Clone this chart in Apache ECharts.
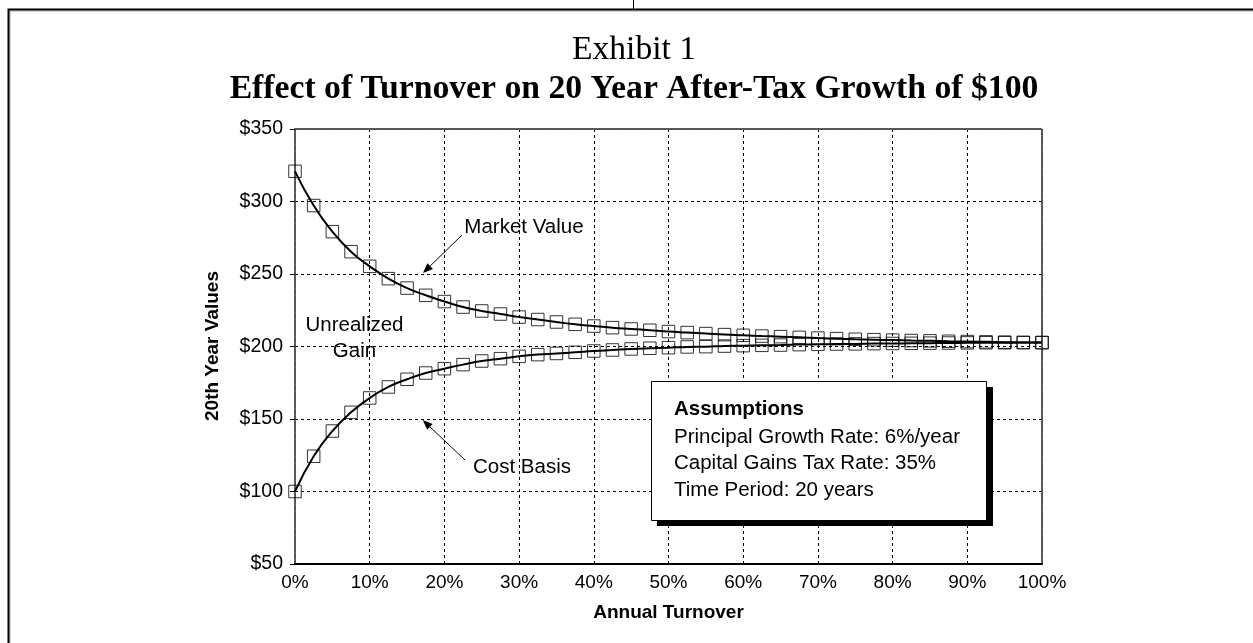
<!DOCTYPE html>
<html><head><meta charset="utf-8">
<script src="https://cdn.jsdelivr.net/npm/echarts@6/dist/echarts.min.js"></script>
<style>html,body{margin:0;padding:0;background:#fff}#c{width:1253px;height:643px}</style>
</head><body><div id="c"></div>
<script>
// ---- data ----
const turnover = [0,2.5,5,7.5,10,12.5,15,17.5,20,22.5,25,27.5,30,32.5,35,37.5,40,42.5,45,47.5,50,52.5,55,57.5,60,62.5,65,67.5,70,72.5,75,77.5,80,82.5,85,87.5,90,92.5,95,97.5,100];
const marketValue = [320.8,297.2,279.2,265.4,255.3,246.8,240.3,235.3,231.0,227.2,224.5,222.4,220.3,218.6,216.9,215.3,214.1,213.0,212.1,211.2,210.3,209.6,208.9,208.2,207.7,207.2,206.8,206.3,205.8,205.4,205.0,204.7,204.4,204.1,203.9,203.6,203.4,203.2,203.0,202.8,202.7];
const costBasis = [100,124.3,141.7,154.6,164.5,172.1,177.4,181.7,184.7,187.5,190.0,191.6,193.2,194.4,195.2,196.0,196.9,197.6,198.3,198.8,199.2,199.7,199.9,200.3,200.6,200.8,201.0,201.3,201.5,201.7,201.8,202.0,202.1,202.2,202.3,202.4,202.5,202.6,202.6,202.7,202.7];
const xTicks = [0,10,20,30,40,50,60,70,80,90,100];
const yTicks = [50,100,150,200,250,300,350];
const exhibitText = 'Exhibit 1';
const titleText = 'Effect of Turnover on 20 Year After-Tax Growth of $100';
const xName = 'Annual Turnover';
const yName = '20th Year Values';
const assumptionsHead = 'Assumptions';
const assumptionsLines = ['Principal Growth Rate: 6%/year','Capital Gains Tax Rate: 35%','Time Period: 20 years'];

// ---- helpers ----
const cv = document.createElement('canvas').getContext('2d');
function fit(text, weight, family, targetW) {
  cv.font = weight + ' 40px ' + family;
  return 40 * targetW / cv.measureText(text).width;
}
const SERIF = '"Liberation Serif", "DejaVu Serif", serif';
const SANS = '"Liberation Sans", Arial, sans-serif';
const exSize = fit(exhibitText, 'normal', SERIF, 124);
const tiSize = fit(titleText, 'bold', SERIF, 808);

function arrow(x1, y1, x2, y2) {
  const a = Math.atan2(y2 - y1, x2 - x1), L = 10, W = 4;
  const bx = x2 - L * Math.cos(a), by = y2 - L * Math.sin(a);
  const px = -Math.sin(a) * W, py = Math.cos(a) * W;
  return [
    {type:'line', z:50, shape:{x1:x1,y1:y1,x2:bx,y2:by}, style:{stroke:'#000', lineWidth:1}},
    {type:'polygon', z:50, shape:{points:[[x2,y2],[bx+px,by+py],[bx-px,by-py]]}, style:{fill:'#000'}}
  ];
}
function txt(t, x, y, font, align, extra) {
  return Object.assign({type:'text', z:60, x:x, y:y, style:{text:t, x:0, y:0, font:font, fill:'#000', align:align||'center', verticalAlign:'middle'}}, extra||{});
}

const chart = echarts.init(document.getElementById('c'), null, {renderer:'canvas'});
const gridLine = {show:true, lineStyle:{color:'#000', width:1, type:[3,3]}};
const frameLine = {show:true, onZero:false, lineStyle:{color:'#555', width:2, type:[2,1]}};

const graphics = [
  {type:'polyline', z:40, shape:{points:[[10,700],[10,11],[1260,11]]}, style:{stroke:'#aaa', lineWidth:1, fill:null}},
  {type:'polyline', z:41, shape:{points:[[8.5,700],[8.5,9.5],[1260,9.5]]}, style:{stroke:'#000', lineWidth:2, fill:null}},
  {type:'line', z:40, shape:{x1:633.5,y1:0,x2:633.5,y2:9}, style:{stroke:'#000', lineWidth:1}},
  txt(exhibitText, 634, 50, 'normal ' + exSize.toFixed(1) + 'px ' + SERIF),
  txt(titleText, 634, 89, 'bold ' + tiSize.toFixed(1) + 'px ' + SERIF),
  txt(yName, 213, 346, 'bold 19px ' + SANS, 'center', {rotation: Math.PI/2}),
  txt(xName, 668.5, 613, 'bold 19px ' + SANS),
  txt('Market Value', 524, 227, '20.5px ' + SANS),
  txt('Unrealized', 354.5, 325, '20.5px ' + SANS),
  txt('Gain', 354.5, 351, '20.5px ' + SANS),
  txt('Cost Basis', 473, 467, '20.5px ' + SANS, 'left'),
  {type:'rect', z:70, shape:{x:657, y:387, width:336, height:139}, style:{fill:'#000'}},
  {type:'rect', z:71, shape:{x:651.5, y:381.5, width:335, height:139}, style:{fill:'#fff', stroke:'#000', lineWidth:1}},
  txt(assumptionsHead, 674, 409, 'bold 20.5px ' + SANS, 'left', {z:72}),
  txt(assumptionsLines[0], 674, 437, '20.5px ' + SANS, 'left', {z:72}),
  txt(assumptionsLines[1], 674, 463, '20.5px ' + SANS, 'left', {z:72}),
  txt(assumptionsLines[2], 674, 490, '20.5px ' + SANS, 'left', {z:72})
].concat(arrow(462, 235, 423, 273), arrow(465, 460, 422.7, 420));

chart.setOption({
  animation: false,
  backgroundColor: '#fff',
  grid: {left: 295, right: 211, top: 129, bottom: 79, containLabel: false},
  xAxis: [{
    type: 'value', min: xTicks[0], max: xTicks[xTicks.length-1], interval: 10,
    axisLine: {show: true, onZero: false, lineStyle: {color: '#000', width: 2}},
    axisTick: {show: false},
    axisLabel: {formatter: v => v + '%', color: '#000', fontFamily: SANS, fontSize: 19, margin: 9},
    splitLine: gridLine
  }, {
    type: 'value', position: 'top', min: xTicks[0], max: xTicks[xTicks.length-1], interval: 10,
    axisLine: frameLine, axisTick: {show: false}, axisLabel: {show: false}, splitLine: {show: false}
  }],
  yAxis: [{
    type: 'value', min: yTicks[0], max: yTicks[yTicks.length-1], interval: 50,
    axisLine: frameLine,
    axisTick: {show: true, length: 5, lineStyle: {color: '#000'}},
    axisLabel: {formatter: v => '$' + v, color: '#000', fontFamily: SANS, fontSize: 19.5, margin: 12},
    splitLine: gridLine
  }, {
    type: 'value', position: 'right', min: yTicks[0], max: yTicks[yTicks.length-1], interval: 50,
    axisLine: frameLine, axisTick: {show: false}, axisLabel: {show: false}, splitLine: {show: false}
  }],
  series: [
    {type:'line', data: turnover.map((x,i)=>[x, marketValue[i]]), smooth: true, showSymbol: false, symbol:'none', lineStyle:{color:'#000', width:2}, z:3},
    {type:'line', data: turnover.map((x,i)=>[x, costBasis[i]]), smooth: true, showSymbol: false, symbol:'none', lineStyle:{color:'#000', width:2}, z:3},
    {type:'scatter', data: turnover.map((x,i)=>[x, marketValue[i]]), symbol:'rect', symbolSize:12.5, itemStyle:{color:'rgba(0,0,0,0)', borderColor:'#000', borderWidth:1}, z:4},
    {type:'scatter', data: turnover.map((x,i)=>[x, costBasis[i]]), symbol:'rect', symbolSize:12.5, itemStyle:{color:'rgba(0,0,0,0)', borderColor:'#000', borderWidth:1}, z:4}
  ],
  graphic: graphics
});
</script>
</body></html>
